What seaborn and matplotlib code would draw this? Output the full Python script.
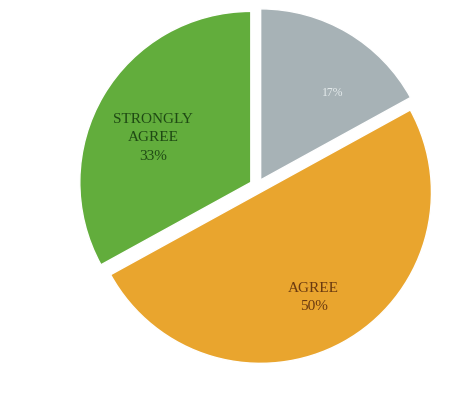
import numpy as np
import matplotlib
matplotlib.use("Agg")
import matplotlib.pyplot as plt
import seaborn as sns

categories = ["Neutral", "Agree", "Strongly Agree"]
values = [17, 50, 33]
label_text = ["17%", "AGREE\n50%", "STRONGLY\nAGREE\n33%"]

colors = ["#a7b2b6", "#e9a52e", "#62ad3c"]
text_colors = ["#e6eced", "#6b3a10", "#1f4a14"]
explode = [0.042, 0.042, 0.042]
label_r = [0.66, 0.69, 0.63]
label_dang = [-9, -2, 6]

sns.set_theme(style="white")
plt.rcParams["font.family"] = ["Liberation Serif", "DejaVu Serif"]

fig = plt.figure(figsize=(4.68, 3.94), dpi=100)
ax = fig.add_axes([0.0, 0.0, 1.0, 1.0])
wedges, _ = ax.pie(values, colors=colors, startangle=90, counterclock=False,
                   explode=explode, radius=1.0)
sizes = [8.5, 11, 11]
for w, t, c, r, s, da in zip(wedges, label_text, text_colors, label_r, sizes, label_dang):
    ang = np.deg2rad((w.theta1 + w.theta2) / 2 + da)
    cx, cy = w.center
    ax.text(cx + r * np.cos(ang), cy + r * np.sin(ang), t, ha="center", va="center",
            fontsize=s, color=c, linespacing=1.55)
ax.set_aspect("equal")
ax.set_xlim(-1.503, 1.234)
ax.set_ylim(-1.216, 1.088)
ax.axis("off")
fig.savefig("out.png", dpi=100, facecolor="white")
